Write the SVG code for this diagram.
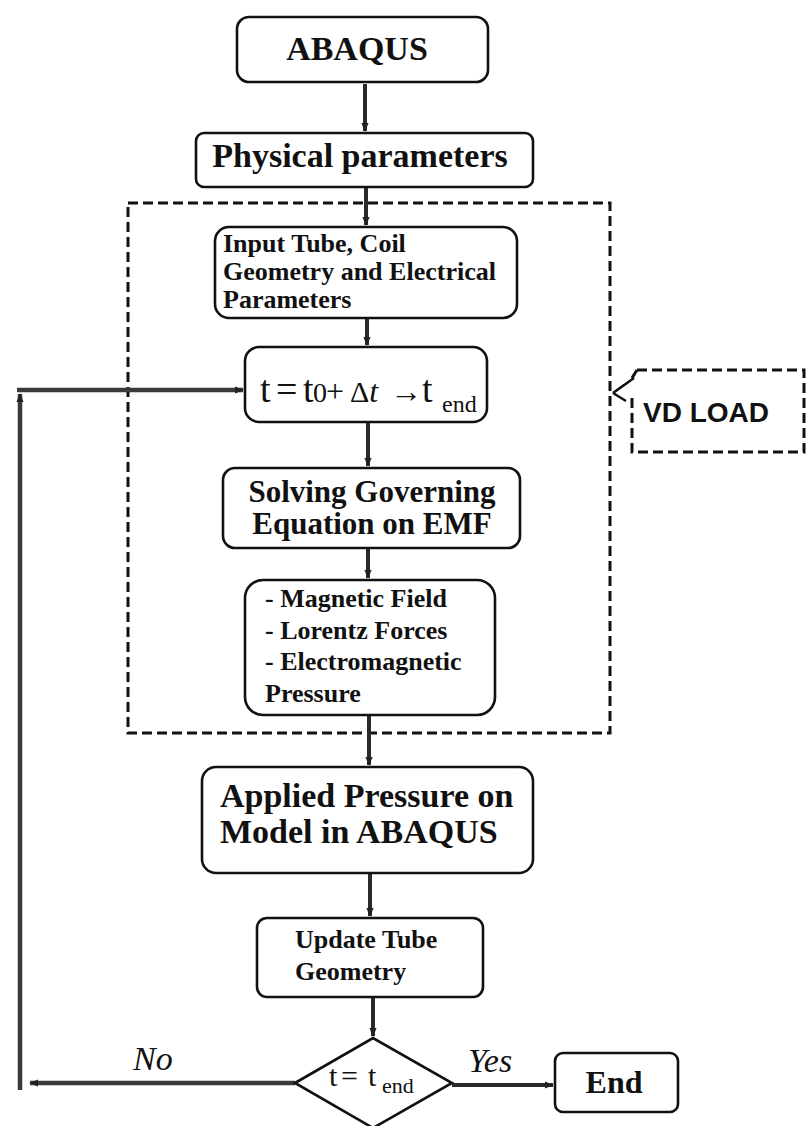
<svg xmlns="http://www.w3.org/2000/svg" width="806" height="1126" viewBox="0 0 806 1126">
<defs>
<marker id="ah" viewBox="0 0 10 10" refX="9" refY="5" markerUnits="userSpaceOnUse" markerWidth="9" markerHeight="9" orient="auto">
<path d="M0,1 L10,5 L0,9 z" fill="#222"/>
</marker>
<style>
.box{fill:#fff;stroke:#111;stroke-width:2.6}
.dash{fill:none;stroke:#111;stroke-width:3;stroke-dasharray:10 5}
.conn{fill:none;stroke:#2a2a2a;stroke-width:4}
.loop{fill:none;stroke:#3a3a3a;stroke-width:4.5}
.b{font-family:"Liberation Serif","Times New Roman",serif;font-weight:bold;fill:#111}
.r{font-family:"Liberation Serif","Times New Roman",serif;fill:#111}
.i{font-family:"Liberation Serif","Times New Roman",serif;font-style:italic;fill:#111}
.s{font-family:"Liberation Sans",Arial,sans-serif;font-weight:bold;fill:#111}
</style>
</defs>

<rect id="dashed-region" class="dash" x="128" y="203" width="482" height="530"/>

<g id="connectors">
<path class="conn" d="M365,84 V131" marker-end="url(#ah)"/>
<path class="conn" d="M366,187 V225" marker-end="url(#ah)"/>
<path class="conn" d="M367,318 V345" marker-end="url(#ah)"/>
<path class="conn" d="M368,422 V466" marker-end="url(#ah)"/>
<path class="conn" d="M368,548 V578" marker-end="url(#ah)"/>
<path class="conn" d="M369,715 V765" marker-end="url(#ah)"/>
<path class="conn" d="M370,873 V916" marker-end="url(#ah)"/>
<path class="conn" d="M373,997 V1036" marker-end="url(#ah)"/>
<path class="conn" d="M452,1085 H553" marker-end="url(#ah)"/>
<path class="loop" d="M295,1083 H30" marker-end="url(#ah)"/>
<path class="loop" d="M20,1090 V394" marker-end="url(#ah)"/>
<path class="loop" d="M17,390 H243" marker-end="url(#ah)"/>
<path fill="none" stroke="#111" stroke-width="2.5" d="M634,378 L613,393 M613,393 L624,385 M613,393 L626,401"/>
</g>

<g id="n-abaqus">
<rect class="box" x="237" y="17" width="251" height="65" rx="12"/>
<text class="b" x="357" y="60" font-size="34" text-anchor="middle">ABAQUS</text>
</g>

<g id="n-physical">
<rect class="box" x="196" y="133" width="337" height="54" rx="8"/>
<text class="b" x="360" y="167" font-size="34" text-anchor="middle">Physical parameters</text>
</g>

<g id="n-input">
<rect class="box" x="215" y="227" width="302" height="91" rx="14"/>
<text class="b" font-size="26"><tspan x="223" y="252">Input Tube, Coil</tspan><tspan x="223" y="280">Geometry and Electrical</tspan><tspan x="223" y="308">Parameters</tspan></text>
</g>

<g id="n-time">
<rect class="box" x="245" y="347" width="242" height="75" rx="14"/>
<text class="r" y="402" font-size="38"><tspan x="260">t</tspan><tspan x="276" font-size="38">=</tspan><tspan x="303">t</tspan><tspan x="313" font-size="28">0</tspan><tspan x="326" font-size="32">+</tspan><tspan x="350" font-size="30">Δ</tspan><tspan class="i" font-size="32">t</tspan><tspan x="390" font-size="32">→</tspan><tspan x="422">t</tspan><tspan x="442" y="412" font-size="24">end</tspan></text>
</g>

<g id="n-vdload">
<path class="dash" d="M637,370 H804 V452 H632 V398"/>
<path class="dash" d="M637,370 L632,378"/>
<text class="s" x="643" y="422" font-size="28">VD LOAD</text>
</g>

<g id="n-solving">
<rect class="box" x="223" y="468" width="297" height="80" rx="12"/>
<text class="b" font-size="31" text-anchor="middle"><tspan x="372" y="502">Solving Governing</tspan><tspan x="372" y="534">Equation on EMF</tspan></text>
</g>

<g id="n-fields">
<rect class="box" x="245" y="580" width="250" height="135" rx="18"/>
<text class="b" font-size="26"><tspan x="265" y="607">- Magnetic Field</tspan><tspan x="265" y="639">- Lorentz Forces</tspan><tspan x="265" y="670">- Electromagnetic</tspan><tspan x="265" y="702">Pressure</tspan></text>
</g>

<g id="n-applied">
<rect class="box" x="202" y="767" width="331" height="106" rx="14"/>
<text class="b" font-size="34"><tspan x="220" y="807">Applied Pressure on</tspan><tspan x="220" y="843">Model in ABAQUS</tspan></text>
</g>

<g id="n-update">
<rect class="box" x="257" y="918" width="226" height="79" rx="10"/>
<text class="b" font-size="26"><tspan x="295" y="948">Update Tube</tspan><tspan x="295" y="980">Geometry</tspan></text>
</g>

<g id="n-decision">
<polygon class="box" points="295,1083 373,1038 452,1083 373,1128"/>
<text class="r" y="1086" font-size="30"><tspan x="329">t</tspan><tspan x="341">=</tspan><tspan x="368">t</tspan><tspan x="382" y="1093" font-size="22">end</tspan></text>
</g>

<g id="n-end">
<rect class="box" x="555" y="1053" width="123" height="59" rx="8"/>
<text class="b" x="614" y="1093" font-size="32" text-anchor="middle">End</text>
</g>

<text class="i" x="133" y="1070" font-size="34">No</text>
<text class="i" x="468" y="1072" font-size="34">Yes</text>
</svg>
